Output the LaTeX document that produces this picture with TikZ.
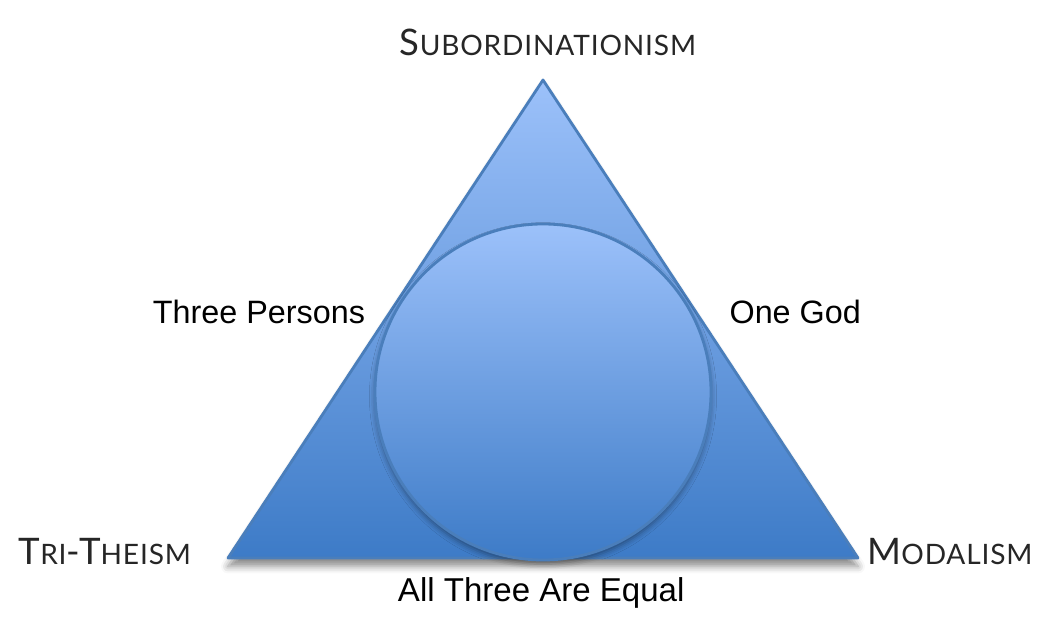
\documentclass[tikz,border=0pt]{standalone}
\usepackage{fontspec}
\setmainfont{Liberation Sans}
\newfontfamily\gillfont[LetterSpace=3]{Lato}
\usetikzlibrary{positioning}
\usetikzlibrary{shadows,shadows.blur}
\definecolor{trilight}{HTML}{9CC1FA}
\definecolor{tridark}{HTML}{3D7BC7}
\definecolor{triline}{HTML}{4A7EBB}
\newcommand{\capword}[2]{{\fontsize{26}{29}\selectfont #1}{\fontsize{20}{23}\selectfont #2}}

\begin{document}
\begin{tikzpicture}
\useasboundingbox (0,0) rectangle (26.125,15.45);
\coordinate (apex) at (13.575,13.45);
\coordinate (left) at (5.7,1.5);
\coordinate (right) at (21.45,1.5);
\draw[triline,line width=2pt,line join=round,top color=trilight,bottom color=tridark,
  blur shadow={shadow xshift=0pt,shadow yshift=-6pt,shadow blur radius=5pt,shadow opacity=45}]
  (apex) -- (right) -- (left) -- cycle;
\draw[triline,line width=2pt,top color=trilight,bottom color=tridark,
  blur shadow={shadow xshift=0pt,shadow yshift=-3pt,shadow blur radius=4pt,shadow opacity=40}]
  (13.575,5.65) circle (4.2);

\node[font=\gillfont,text=black!85] (subord) at (13.7,14.4) {\capword{S}{UBORDINATIONISM}};
\node[font=\gillfont,text=black!85] (tritheism) at (2.62,1.65) {\capword{T}{RI}\capword{-T}{HEISM}};
\node[font=\gillfont,text=black!85] (modalism) at (23.75,1.65) {\capword{M}{ODALISM}};

\node[font=\fontsize{23}{27}\selectfont] (persons) at (6.475,7.65) {Three Persons};
\node[font=\fontsize{23}{27}\selectfont] (onegod) at (19.88,7.65) {One God};
\node[font=\fontsize{23.5}{27}\selectfont] (equal) at (13.53,0.62) {All Three Are Equal};
\end{tikzpicture}
\end{document}
